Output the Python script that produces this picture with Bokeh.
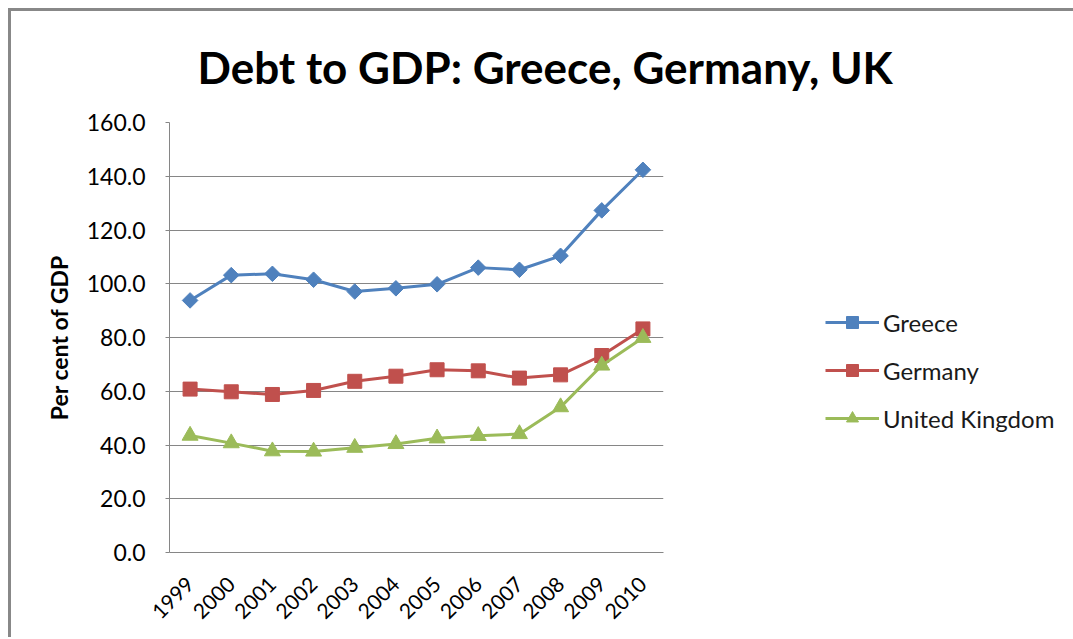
import math
from bokeh.plotting import figure
from bokeh.models import Range1d, Legend, LegendItem, NumeralTickFormatter, FixedTicker
from bokeh.embed import file_html
from bokeh.resources import INLINE

years = ["1999", "2000", "2001", "2002", "2003", "2004", "2005", "2006", "2007", "2008", "2009", "2010"]
greece = [93.8, 103.2, 103.7, 101.5, 97.1, 98.3, 99.8, 106.0, 105.2, 110.4, 127.3, 142.4]
germany = [60.8, 59.8, 58.8, 60.3, 63.7, 65.6, 68.0, 67.6, 64.9, 66.1, 73.3, 83.2]
uk = [43.5, 40.7, 37.7, 37.6, 39.0, 40.4, 42.5, 43.4, 44.1, 54.1, 69.6, 79.9]
y_ticks = [0, 20, 40, 60, 80, 100, 120, 140, 160]

FONT = "Lato"
GRAY = "#868686"

p = figure(x_range=years, y_range=Range1d(0, 160), frame_width=494, frame_height=430,
           output_backend="svg", toolbar_location=None,
           min_border_left=161, min_border_top=114, min_border_right=0, min_border_bottom=85,
           title="Debt to GDP: Greece, Germany, UK")
p.styles = {"margin-left": "8px", "margin-top": "8px",
            "box-shadow": "inset 3px 3px 0 0 #888888"}
p.border_fill_alpha = 0
p.background_fill_color = "white"

p.title.text_font = FONT
p.title.text_font_size = "44px"
p.title.text_font_style = "bold"
p.title.text_color = "#000000"
p.title.align = "left"
p.title.offset = 28
p.title.standoff = 59

p.outline_line_color = None
p.xgrid.grid_line_color = None
p.ygrid.grid_line_color = GRAY
p.ygrid.grid_line_width = 1
p.ygrid.ticker = FixedTicker(ticks=y_ticks)

p.yaxis.ticker = FixedTicker(ticks=y_ticks)
p.yaxis.formatter = NumeralTickFormatter(format="0.0")
p.yaxis.axis_line_color = GRAY
p.yaxis.major_tick_line_color = GRAY
p.yaxis.major_tick_out = 4
p.yaxis.major_tick_in = 0
p.yaxis.minor_tick_line_color = None
p.yaxis.major_label_standoff = 20
p.yaxis.major_label_text_font = FONT
p.yaxis.major_label_text_font_size = "23px"
p.yaxis.major_label_text_color = "#000000"
p.yaxis.axis_label = "Per cent of GDP"
p.yaxis.axis_label_text_font = FONT
p.yaxis.axis_label_text_font_size = "23px"
p.yaxis.axis_label_text_font_style = "bold"
p.yaxis.axis_label_text_color = "#000000"
p.yaxis.axis_label_standoff = 11

p.xaxis.axis_line_color = GRAY
p.xaxis.major_tick_line_color = None
p.xaxis.minor_tick_line_color = None
p.xaxis.major_label_orientation = math.pi / 4
p.xaxis.major_label_text_font = FONT
p.xaxis.major_label_text_font_size = "21px"
p.xaxis.major_label_text_color = "#000000"
p.xaxis.major_label_standoff = 22

series = [("Greece", greece, "#4F81BD", "square", 11, math.pi / 4),
          ("Germany", germany, "#C0504D", "square", 14, 0),
          ("United Kingdom", uk, "#9BBB59", "triangle", 16, 0)]
items = []
for name, vals, col, mk, sz, ang in series:
    l = p.line(years, vals, line_color=col, line_width=3)
    s = p.scatter(years, vals, marker=mk, size=sz, angle=ang, fill_color=col, line_color=col)
    items.append(LegendItem(label=name, renderers=[l, s]))

legend = Legend(items=items, location=(162, 119), glyph_width=54, glyph_height=30,
                label_height=30, spacing=18, padding=0, margin=0, label_standoff=4,
                border_line_color=None, background_fill_alpha=0,
                label_text_font=FONT, label_text_font_size="24px", label_text_color="#1a1a1a")
p.add_layout(legend, "right")

open("out.html", "w").write(file_html(p, INLINE))
